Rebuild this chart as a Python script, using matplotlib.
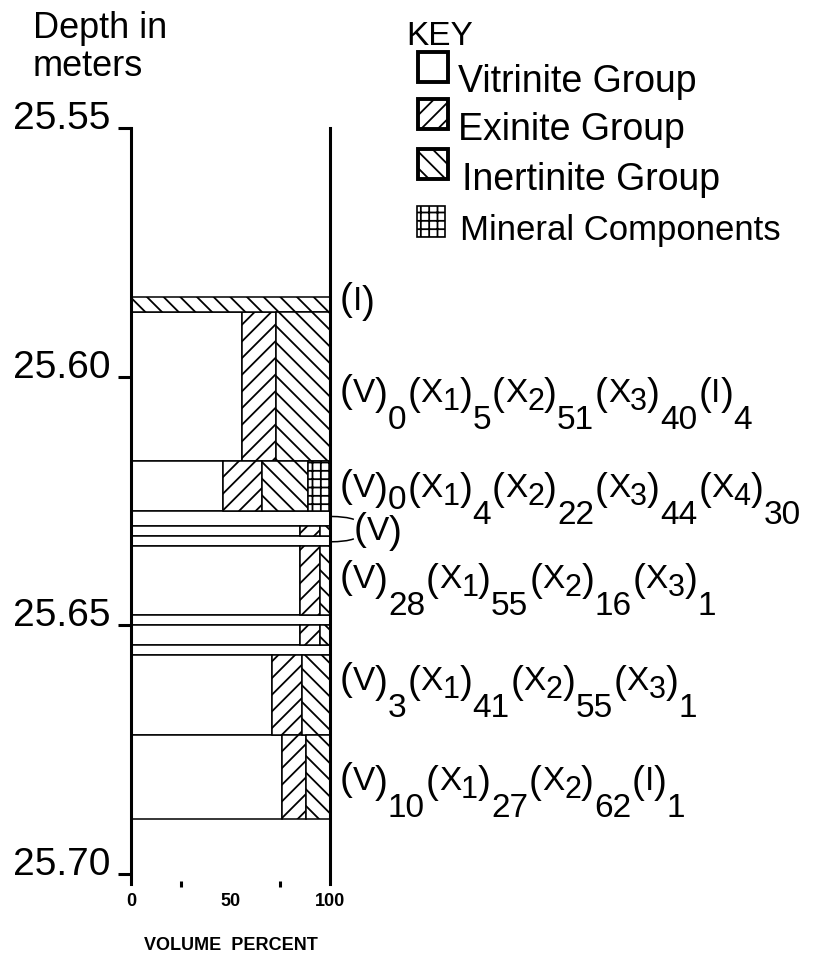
import matplotlib
matplotlib.use("Agg")
import matplotlib.pyplot as plt
from matplotlib.patches import Rectangle, PathPatch
from matplotlib.path import Path

plt.rcParams["font.family"] = ["Liberation Sans", "DejaVu Sans"]
plt.rcParams["hatch.linewidth"] = 1.3

# layer boundaries (depth, m) and maceral group composition (volume %)
boundaries = [25.584, 25.587, 25.617, 25.627, 25.630, 25.632, 25.634,
              25.648, 25.650, 25.654, 25.656, 25.672, 25.689]
vitrinite = [0, 56, 46, 100, 85, 100, 85, 100, 85, 100, 71, 76]
exinite = [0, 17, 20, 0, 10, 0, 10, 0, 10, 0, 15, 12]
inertinite = [100, 27, 23, 0, 5, 0, 5, 0, 5, 0, 14, 12]
mineral = [0, 0, 11, 0, 0, 0, 0, 0, 0, 0, 0, 0]

group_names = ["Vitrinite Group", "Exinite Group", "Inertinite Group", "Mineral Components"]
group_hatch = ["", "//", "\\\\", "++"]

# microlithotype notation written beside the column
micro_names = [
    ["I"],
    ["V", "X1", "X2", "X3", "I"],
    ["V", "X1", "X2", "X3", "X4"],
    ["V"],
    ["V", "X1", "X2", "X3"],
    ["V", "X1", "X2", "X3"],
    ["V", "X1", "X2", "I"],
]
micro_counts = [
    [None],
    [0, 5, 51, 40, 4],
    [0, 4, 22, 44, 30],
    [None],
    [28, 55, 16, 1],
    [3, 41, 55, 1],
    [10, 27, 62, 1],
]
micro_depths = [25.5864, 25.6049, 25.6240, 25.6326, 25.6423, 25.6628, 25.6829]
micro_x = [105, 105, 105, 112, 105, 105, 105]

depth_ticks = [25.55, 25.60, 25.65, 25.70]
pct_ticks = [0, 50, 100]
pct_minor = [25, 75]

W, H = 823, 954
fig = plt.figure(figsize=(W / 100, H / 100), dpi=100)
ax = fig.add_axes([131 / W, 69 / H, 199 / W, 756 / H])

# stacked horizontal bars, one per layer
tops = boundaries[:-1]
heights = [b - t for t, b in zip(boundaries[:-1], boundaries[1:])]
left = [0] * len(tops)
for vals, hatch in zip([vitrinite, exinite, inertinite, mineral], group_hatch):
    for i, (t, h, v) in enumerate(zip(tops, heights, vals)):
        if v > 0:
            ax.barh(t, v, height=h, left=left[i], align="edge", color="white",
                    edgecolor="black", linewidth=1.1, hatch=hatch, zorder=2)
        left[i] += v

ax.set_xlim(0, 100)
ax.set_ylim(25.702, 25.55)
for s in ["top", "bottom"]:
    ax.spines[s].set_visible(False)
for s in ["left", "right"]:
    ax.spines[s].set_linewidth(2.2)
    ax.spines[s].set_zorder(5)

ax.set_yticks(depth_ticks)
ax.set_yticklabels([f"{d:.2f}" for d in depth_ticks])
ax.tick_params(axis="y", length=9.4, width=2.2, pad=5.5, labelsize=28)
for lab in ax.get_yticklabels():
    lab.set_va("baseline")

ax.set_xticks(pct_ticks)
ax.set_xticks(pct_minor, minor=True)
ax.tick_params(axis="x", which="major", length=0, pad=6, labelsize=13)
ax.tick_params(axis="x", which="minor", length=4.3, width=2.2, direction="inout")
for lab in ax.get_xticklabels():
    lab.set_fontweight("bold")
ax.set_xlabel("VOLUME  PERCENT", fontsize=13, fontweight="bold", labelpad=19)


def put(prev, s, y, size, drop, gap):
    return ax.annotate(s, xy=(1, y), xycoords=(prev, "data"),
                       xytext=(gap * 0.72, -drop * 0.72), textcoords="offset points",
                       fontsize=size, va="baseline", ha="left", annotation_clip=False)


# microlithotype labels with hand-set subscripts
MAIN, IDX, PAR = 24, 22, 28
for k, (names, counts, y, x0) in enumerate(zip(micro_names, micro_counts, micro_depths, micro_x)):
    prev = None
    for j, (nm, cnt) in enumerate(zip(names, counts)):
        if prev is None:
            prev = ax.text(x0, y, "(", fontsize=PAR, va="baseline", ha="left",
                           transform=ax.transData, clip_on=False)
        else:
            prev = put(prev, "(", y, PAR, 3, 1)
        prev = put(prev, nm[0], y, MAIN, 0, 0)
        if len(nm) > 1:
            prev = put(prev, nm[1:], y, IDX, 8, 0)
        prev = put(prev, ")", y, PAR, 3, 0)
        if cnt is not None:
            drop = 12 if (k == 2 and j == 0) else 27
            prev = put(prev, str(cnt), y, MAIN, drop, 0)

# curved leader from the thin vitrite bands to the (V) label
for y_ax, y_end in [(25.6281, 25.6287), (25.6332, 25.6326)]:
    verts = [(100, y_ax), (108, y_ax), (112, y_end)]
    ax.add_patch(PathPatch(Path(verts, [Path.MOVETO, Path.CURVE3, Path.CURVE3]),
                           fill=False, lw=1.1, clip_on=False))

# key and heading, laid out in figure pixels
ov = fig.add_axes([0, 0, 1, 1], zorder=-1)
ov.set_xlim(0, W)
ov.set_ylim(H, 0)
ov.axis("off")
ov.text(33, 11, "Depth in\nmeters", fontsize=26, va="top", ha="left", linespacing=1.12)
ov.text(406, 45, "KEY", fontsize=24, va="baseline", ha="left")
key_boxes = [(418, 53, 30, 30, 2.8), (418, 100, 30, 30, 2.8),
             (418, 150, 30, 30, 2.8), (417, 207, 28, 31, 1.2)]
key_text = [(458, 92, 27), (458, 140, 27), (462, 190, 27), (460, 240, 25)]
for name, hatch, (bx, by, bw, bh, lw), (tx, ty, fs) in zip(group_names, group_hatch, key_boxes, key_text):
    ov.add_patch(Rectangle((bx, by), bw, bh, facecolor="white", edgecolor="black",
                           linewidth=lw, hatch=hatch))
    ov.text(tx, ty, name, fontsize=fs, va="baseline", ha="left")

fig.savefig("out.png", dpi=100)
